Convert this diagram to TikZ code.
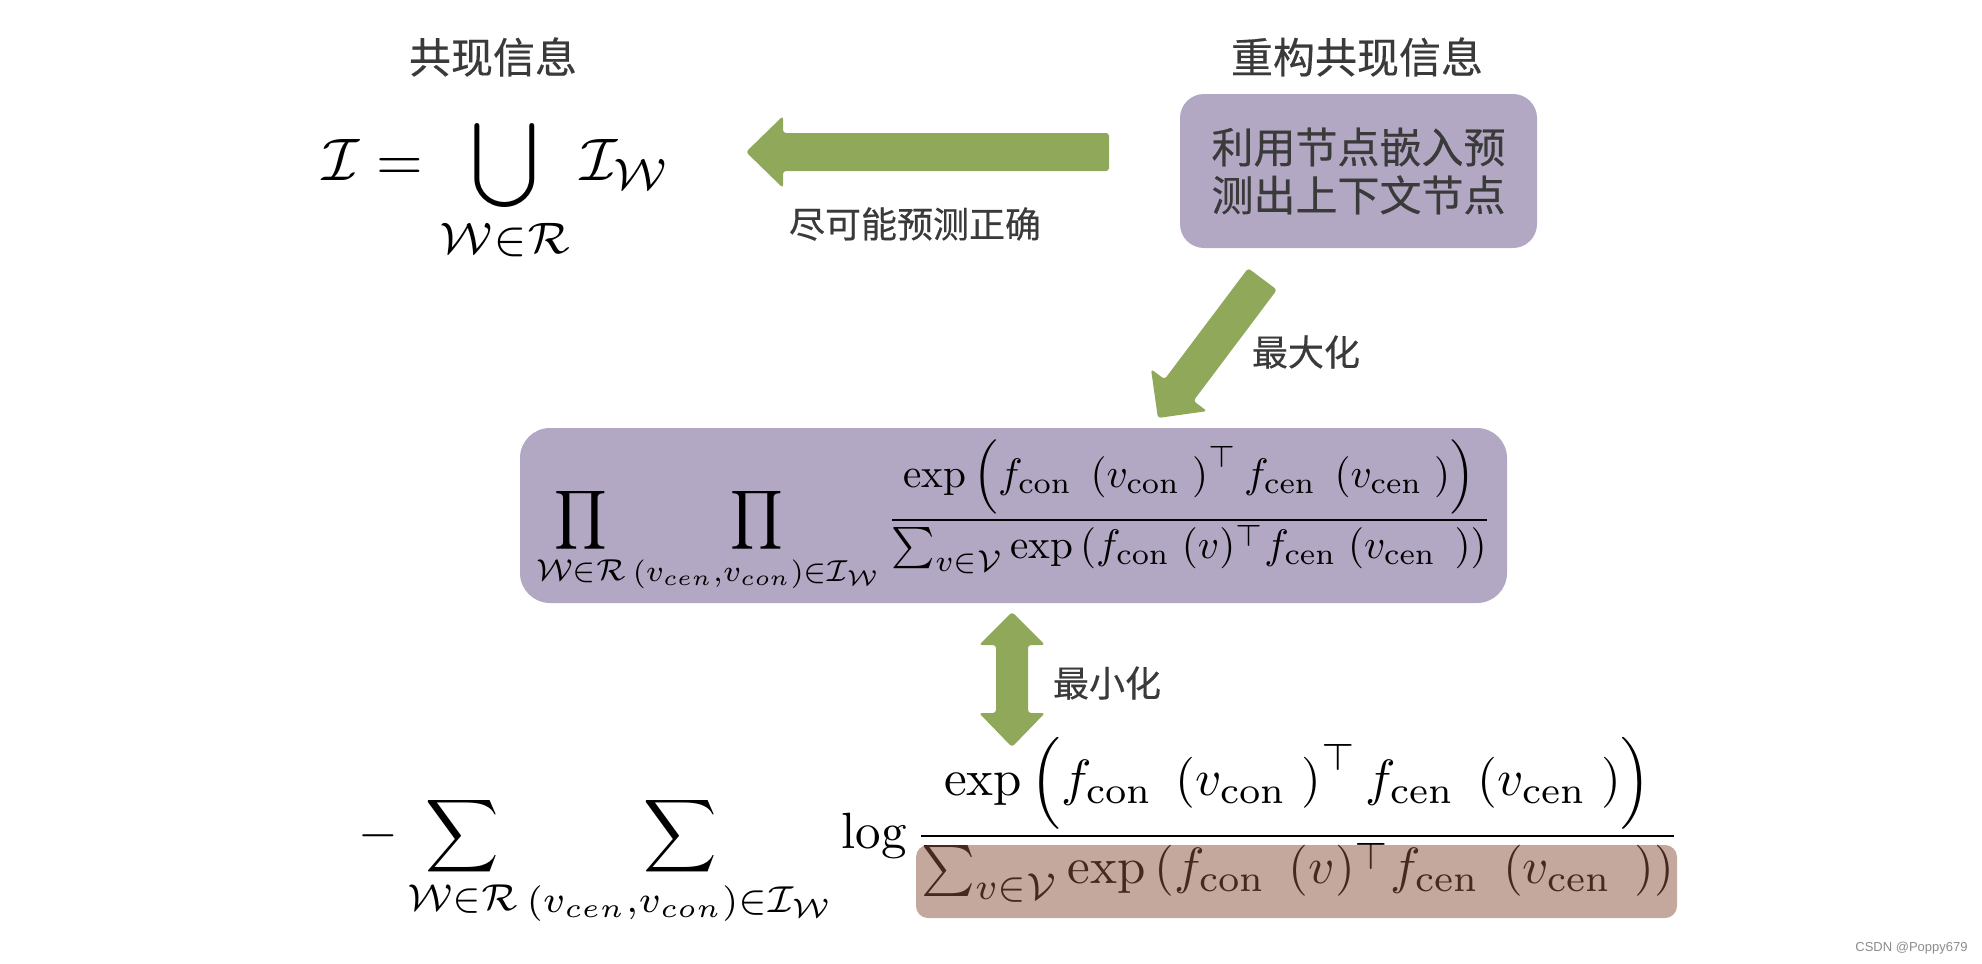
\documentclass[tikz,border=0pt]{standalone}
\usepackage{amsmath}
\usepackage{graphicx}
\usepackage{fontspec}
\DeclareFontFamily{OML}{cmm}{\skewchar\font'177}
\DeclareFontShape{OML}{cmm}{m}{it}{<-6>cmmi5<6-7>cmmi6<7-8>cmmi7<8-9>cmmi8<9-10>cmmi9<10->cmmi10}{}
\DeclareFontFamily{OMS}{cmsy}{\skewchar\font'60}
\DeclareFontShape{OMS}{cmsy}{m}{n}{<-6>cmsy5<6-7>cmsy6<7-8>cmsy7<8-9>cmsy8<9-10>cmsy9<10->cmsy10}{}
\DeclareMathSizes{10}{10}{7.35}{5.25}
\newfontfamily\cjk[FakeBold=0.4]{Noto Sans CJK SC}
\newfontfamily\wmfont{Liberation Sans}
\definecolor{boxpurple}{RGB}{179,168,196}
\definecolor{arrowgreen}{RGB}{143,168,90}
\definecolor{txtgray}{RGB}{58,58,58}
\definecolor{brownov}{RGB}{138,82,62}
\tikzset{
  cjklabel/.style={font=\cjk\fontsize{18pt}{22pt}\selectfont, text=txtgray, inner sep=0pt},
  titletext/.style={font=\cjk\fontsize{21pt}{25pt}\selectfont, text=txtgray, inner sep=0pt},
  blockarrow/.style={fill=arrowgreen, rounded corners=1.5pt},
  formula/.style={inner sep=0pt},
  panel/.style={fill=boxpurple, draw=none, inner sep=0pt},
}
\begin{document}
\begin{tikzpicture}[x=0.5pt,y=-0.5pt]
\useasboundingbox (0,0) rectangle (1982,964);
\fill[white] (0,0) rectangle (1982,964);

% titles
\node[titletext] (t1) at (493,57) {共现信息};
\node[titletext] (t2) at (1357,57) {重构共现信息};

% top-right box
\node[panel, rounded corners=12pt, minimum width=178.5pt, minimum height=77pt,
      align=center, font=\cjk\fontsize{21pt}{24pt}\selectfont, text=txtgray]
      (pred) at (1358.5,171) {利用节点嵌入预\\测出上下文节点};

% top formula
\node[formula, anchor=base west] (cooc) at (322,180)
  {\scalebox{3.0}{$\displaystyle \mathcal{I}=\bigcup_{\mathcal{W}\in\mathcal{R}}\mathcal{I}_{\mathcal{W}}$}};

% left arrow
\fill[blockarrow] (746,152) -- (783,116) -- (783,133) -- (1109,133) -- (1109,171)
  -- (783,171) -- (783,188) -- cycle;
\node[cjklabel] (lbl1) at (915,224) {尽可能预测正确};

% diagonal arrow
\fill[blockarrow] (1248.1,268.2) -- (1276.9,289.8) -- (1193.4,400.9) -- (1207,411.1)
  -- (1157.9,418) -- (1151,369.1) -- (1164.6,379.3) -- cycle;
\node[cjklabel] (lbl2) at (1306,352) {最大化};

% middle box
\node[panel, rounded corners=15pt, minimum width=493.5pt, minimum height=87.5pt]
  (mid) at (1013.5,515.5) {};
\node[formula, anchor=base east] (midf) at (1492,530.3)
  {\scalebox{2.06}{$\displaystyle
  \prod_{\mathcal{W}\in\mathcal{R}}\prod_{(v_{cen},v_{con})\in\mathcal{I}_{\mathcal{W}}}
  \frac{\exp\,\Bigl(f_{\text{con }}\left(v_{\text{con }}\right)^{\top}f_{\text{cen }}\left(v_{\text{cen }}\right)\Bigr)}
  {\sum_{v\in\mathcal{V}}\exp\,(f_{\text{con }}(v)^{\top}f_{\text{cen }}(v_{\text{cen }}\,))}$}};

% double arrow
\fill[blockarrow] (1012,612) -- (1045,645) -- (1028,645) -- (1028,713) -- (1045,713)
  -- (1012,747) -- (979,713) -- (996,713) -- (996,645) -- (979,645) -- cycle;
\node[cjklabel] (lbl3) at (1107,683) {最小化};

% bottom formula
\node[formula, anchor=base east] (botf) at (1681,848.75)
  {\scalebox{2.55}{$\displaystyle
  -\sum_{\mathcal{W}\in\mathcal{R}}\sum_{(v_{cen},v_{con})\in\mathcal{I}_{\mathcal{W}}}
  \log\frac{\exp\,\Bigl(f_{\text{con }}\left(v_{\text{con }}\right)^{\top}f_{\text{cen }}\left(v_{\text{cen }}\right)\Bigr)}
  {\sum_{v\in\mathcal{V}}\exp\,(f_{\text{con }}\,(v)^{\top}f_{\text{cen }}\,(v_{\text{cen }}\,))}$}};
\node[panel, fill=brownov, fill opacity=0.5, rounded corners=6pt,
      minimum width=380.5pt, minimum height=36.5pt] (den) at (1296.5,881.5) {};

% watermark
\node[font=\wmfont\fontsize{6.5pt}{8pt}\selectfont, text=black!45, anchor=east, inner sep=0pt]
  (wm) at (1968,948) {CSDN @Poppy679};
\end{tikzpicture}
\end{document}
